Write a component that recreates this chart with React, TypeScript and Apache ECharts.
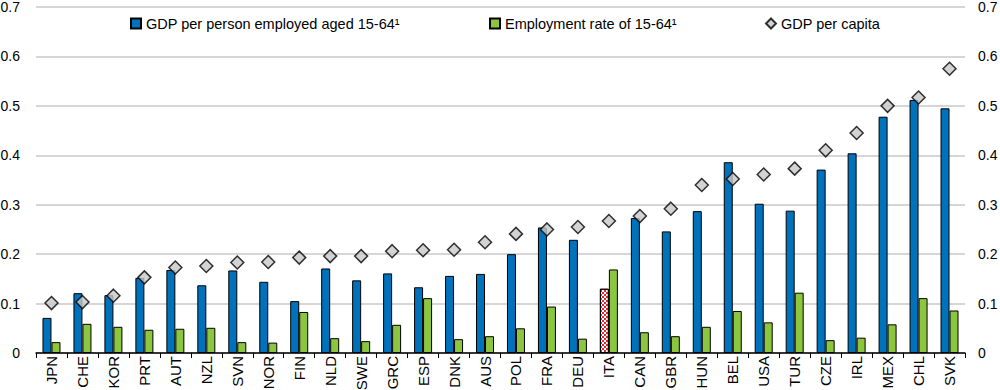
import React, { useEffect, useRef } from "react";
import * as echarts from "echarts";

const categories = ["JPN","CHE","KOR","PRT","AUT","NZL","SVN","NOR","FIN","NLD","SWE","GRC","ESP","DNK","AUS","POL","FRA","DEU","ITA","CAN","GBR","HUN","BEL","USA","TUR","CZE","IRL","MEX","CHL","SVK"];
const gdpPerPersonEmployed = [0.071,0.121,0.117,0.152,0.168,0.137,0.167,0.144,0.105,0.171,0.147,0.161,0.133,0.156,0.160,0.200,0.254,0.229,0.130,0.273,0.246,0.287,0.386,0.302,0.288,0.371,0.404,0.478,0.512,0.495];
const employmentRate = [0.022,0.059,0.053,0.047,0.049,0.051,0.022,0.021,0.083,0.030,0.024,0.057,0.111,0.028,0.034,0.050,0.094,0.029,0.169,0.042,0.034,0.053,0.085,0.062,0.122,0.026,0.031,0.058,0.111,0.086];
const gdpPerCapita = [0.101,0.103,0.116,0.153,0.173,0.176,0.183,0.184,0.193,0.196,0.196,0.206,0.208,0.209,0.224,0.241,0.250,0.255,0.267,0.277,0.292,0.340,0.352,0.361,0.373,0.410,0.445,0.500,0.517,0.575];
const seriesNames = ["GDP per person employed aged 15-64\u00b9", "Employment rate of 15-64\u00b9", "GDP per capita"];
const highlightCountry = "ITA";

const FONT = "Arial";

export default function App() {
  const ref = useRef<HTMLDivElement>(null);
  useEffect(() => {
    document.body.style.margin = "0";
    const chart = echarts.init(ref.current!, undefined, { renderer: "svg" });
    const blueData = gdpPerPersonEmployed.map((v, i) =>
      categories[i] === highlightCountry
        ? {
            value: v,
            itemStyle: {
              color: "#ffffff",
              borderColor: "#000",
              borderWidth: 1,
              decal: {
                symbol: "rect",
                symbolSize: 1,
                color: "#E8242C",
                backgroundColor: "#ffffff",
                dashArrayX: [[2, 2], [0, 2, 2, 0]],
                dashArrayY: [2, 0],
                rotation: 0,
              },
            },
          }
        : v
    );
    const legendCommon = {
      top: 16,
      textStyle: { fontSize: 14.5, color: "#000", fontFamily: FONT },
      itemWidth: 10,
      itemHeight: 10,
      itemGap: 5,
      padding: 0,
    };
    chart.setOption({
      animation: false,
      textStyle: { fontFamily: FONT },
      grid: { left: 36, right: 35, top: 7, bottom: 37, containLabel: false, outerBoundsMode: "none" },
      legend: [
        { ...legendCommon, left: 130, data: [{ name: seriesNames[0], icon: "rect" }] },
        { ...legendCommon, left: 489, data: [{ name: seriesNames[1], icon: "rect" }] },
        { ...legendCommon, left: 765, data: [{ name: seriesNames[2], icon: "diamond" }] },
      ],
      xAxis: {
        type: "category",
        data: categories,
        axisLine: { lineStyle: { color: "#000", width: 1.5 } },
        axisTick: { show: true, length: 5, lineStyle: { color: "#000" } },
        axisLabel: { rotate: 90, interval: 0, hideOverlap: false, fontSize: 15, color: "#000", margin: 3, fontFamily: FONT },
      },
      yAxis: [
        {
          type: "value",
          min: 0,
          max: 0.7,
          interval: 0.1,
          axisLine: { show: false },
          axisTick: { show: false },
          axisLabel: { fontSize: 14, color: "#000", margin: 16, fontFamily: FONT },
          splitLine: { lineStyle: { color: "#C8C8C8", width: 1.5 } },
        },
        {
          type: "value",
          min: 0,
          max: 0.7,
          interval: 0.1,
          position: "right",
          axisLine: { show: false },
          axisTick: { show: false },
          axisLabel: { fontSize: 14, color: "#000", margin: 13, fontFamily: FONT },
          splitLine: { show: false },
        },
      ],
      series: [
        {
          name: seriesNames[0],
          type: "bar",
          data: blueData,
          barWidth: 9,
          barGap: "0%",
          itemStyle: { color: "#0072BC", borderColor: "#000", borderWidth: 1 },
        },
        {
          name: seriesNames[1],
          type: "bar",
          data: employmentRate,
          barWidth: 9,
          barGap: "0%",
          itemStyle: { color: "#8CC63F", borderColor: "#000", borderWidth: 1 },
        },
        {
          name: seriesNames[2],
          type: "scatter",
          data: gdpPerCapita,
          symbol: "diamond",
          symbolSize: 13,
          itemStyle: { color: "#C8C8C8", borderColor: "#000", borderWidth: 1.5 },
          z: 5,
        },
      ],
    });
    return () => chart.dispose();
  }, []);
  return <div ref={ref} style={{ width: 1000, height: 390 }} />;
}
